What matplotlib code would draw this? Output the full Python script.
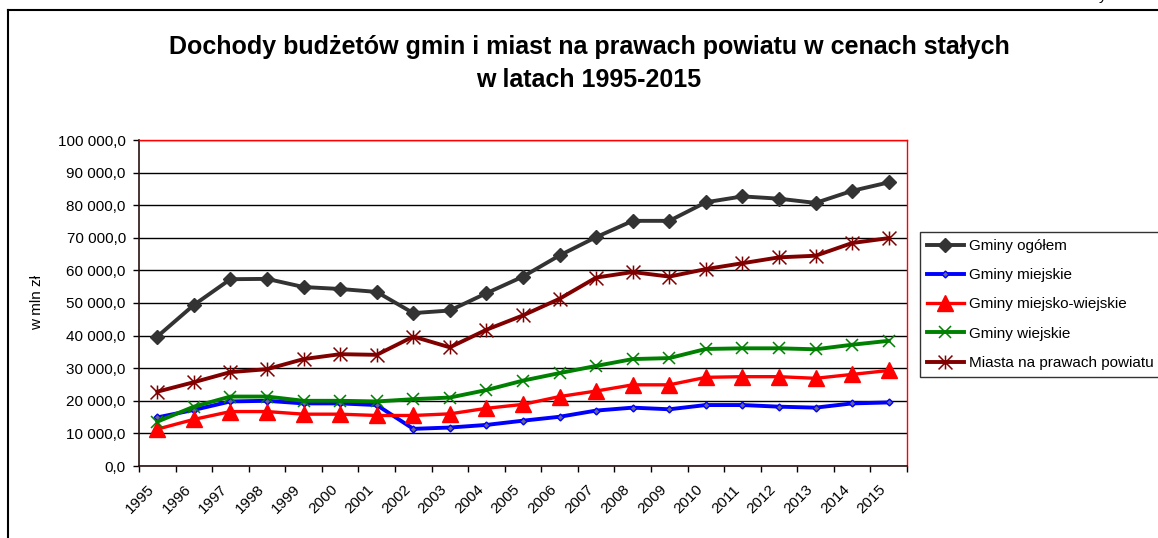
import matplotlib
matplotlib.use("Agg")
import matplotlib.pyplot as plt
import matplotlib.transforms as mtransforms
import numpy as np
from matplotlib.ticker import FuncFormatter, FixedLocator
from matplotlib.path import Path
from matplotlib.lines import Line2D

plt.rcParams['font.family'] = ['Liberation Sans', 'DejaVu Sans']

years = [str(y) for y in range(1995, 2016)]

gminy_ogolem = [39700, 49400, 57300, 57400, 54900, 54300, 53400, 46900, 47700, 53000,
                58100, 64600, 70200, 75200, 75200, 80900, 82700, 82000, 80700, 84400, 87000]
gminy_miejskie = [14900, 17200, 19800, 20000, 19200, 19200, 18700, 11400, 11800, 12600,
                  13900, 15100, 17000, 17900, 17400, 18700, 18700, 18200, 17900, 19200, 19500]
gminy_miejsko_wiejskie = [11300, 14300, 16700, 16700, 15900, 15900, 15500, 15500, 16000, 17700,
                          18900, 21300, 23000, 24900, 24900, 27200, 27400, 27400, 26900, 28100, 29300]
gminy_wiejskie = [13600, 18200, 21300, 21300, 20000, 20000, 19800, 20500, 21000, 23300,
                  26200, 28500, 30700, 32800, 33100, 35900, 36100, 36100, 35800, 37200, 38400]
miasta_npp = [22800, 25700, 28800, 29700, 32800, 34300, 34100, 39700, 36400, 41800,
              46200, 51300, 57800, 59500, 58100, 60400, 62200, 64000, 64500, 68400, 69900]

series_names = ["Gminy ogółem", "Gminy miejskie", "Gminy miejsko-wiejskie",
                "Gminy wiejskie", "Miasta na prawach powiatu"]

# asterisk marker (X + vertical line)
star_path = Path([(0, -1), (0, 1), (-1, -1), (1, 1), (-1, 1), (1, -1)],
                 [Path.MOVETO, Path.LINETO, Path.MOVETO, Path.LINETO, Path.MOVETO, Path.LINETO])

fig = plt.figure(figsize=(11.58, 5.38), dpi=100)
ax = fig.add_axes([139/1158, 72/538, (907-139)/1158, (466-140)/538])

x = np.arange(len(years))
ax.plot(x, gminy_ogolem, color='#333333', lw=2.8, marker='D', ms=7.5,
        mfc='#333333', mec='#333333', label=series_names[0], zorder=5)
ax.plot(x, gminy_miejskie, color='#0000ff', lw=2.8, marker='D', ms=3.5,
        mfc='#66668f', mec='#0000ff', mew=1, label=series_names[1], zorder=5)
ax.plot(x, gminy_miejsko_wiejskie, color='#ff0000', lw=2.4, marker='^', ms=11,
        mfc='#ff0000', mec='#ff0000', label=series_names[2], zorder=5)
ax.plot(x, gminy_wiejskie, color='#008000', lw=2.8, marker='x', ms=9,
        mec='#008000', mew=1.1, label=series_names[3], zorder=5)
ax.plot(x, miasta_npp, color='#800000', lw=2.8, marker=star_path, ms=10,
        mec='#800000', mew=1.1, label=series_names[4], zorder=5)

ax.set_xlim(-0.5, len(years) - 0.5)
ax.set_ylim(0, 100000)
ax.yaxis.set_major_locator(FixedLocator(np.arange(0, 100001, 10000)))
ax.yaxis.set_major_formatter(FuncFormatter(
    lambda v, p: f"{v:,.1f}".replace(",", " ").replace(".", ",")))
ax.grid(axis='y', color='black', lw=1, zorder=1)
ax.set_axisbelow(True)

ax.set_xticks(x)
ax.set_xticklabels(years, rotation=45, ha='right', va='top', rotation_mode='anchor')
ax.set_xticks(np.arange(-0.5, len(years) + 0.5, 1), minor=True)
ax.tick_params(axis='x', which='major', length=0, pad=12, labelsize=11)
ax.tick_params(axis='x', which='minor', length=4.5, width=1, direction='out')
ax.tick_params(axis='y', length=4.5, width=1, pad=5, labelsize=11, direction='out')

offset = mtransforms.ScaledTranslation(-10/100, 0, fig.dpi_scale_trans)
for lbl in ax.get_xticklabels():
    lbl.set_transform(lbl.get_transform() + offset)

for s in ['top', 'right']:
    ax.spines[s].set_color('#ff0000')
    ax.spines[s].set_linewidth(1)
for s in ['left', 'bottom']:
    ax.spines[s].set_color('#2a1010')
    ax.spines[s].set_linewidth(1.2)

fig.text(37/1158, 0.437, "w mln zł", rotation=90, ha='center', va='center', fontsize=11)

fig.text(589/1158, 1 - 47/538, "Dochody budżetów gmin i miast na prawach powiatu w cenach stałych",
         ha='center', va='center', fontsize=18, fontweight='bold')
fig.text(589/1158, 1 - 80/538, "w latach 1995-2015",
         ha='center', va='center', fontsize=18, fontweight='bold')

leg = ax.legend(loc='upper left', bbox_to_anchor=(920/1158, 1 - 232/538),
                bbox_transform=fig.transFigure, fontsize=11, frameon=True,
                fancybox=False, edgecolor='black', handlelength=2.4,
                handletextpad=0.35, labelspacing=1.0, borderpad=0.45, borderaxespad=0)
leg.get_frame().set_linewidth(1)

# outer chart border
fig.add_artist(Line2D([8/1158, 8/1158], [0, 1 - 9.5/538], transform=fig.transFigure,
                      color='black', lw=1.5))
fig.add_artist(Line2D([8/1158, 1], [1 - 9.5/538, 1 - 9.5/538], transform=fig.transFigure,
                      color='black', lw=1.5))
fig.text(1103/1158, 1.0, "y", ha='center', va='baseline', fontsize=11)

fig.savefig("out.png", dpi=100)
